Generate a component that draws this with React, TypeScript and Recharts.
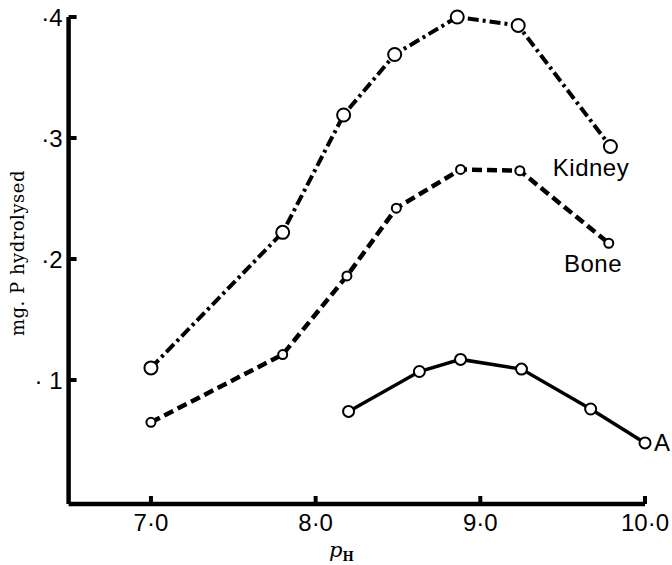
import { LineChart, Line, XAxis, YAxis } from "recharts"

const kidneyPH = [7.0, 7.8, 8.17, 8.48, 8.86, 9.23, 9.79]
const kidneyP = [0.11, 0.222, 0.319, 0.369, 0.4, 0.393, 0.293]

const bonePH = [7.0, 7.8, 8.19, 8.49, 8.88, 9.24, 9.78]
const boneP = [0.065, 0.121, 0.186, 0.242, 0.274, 0.273, 0.213]

const aPH = [8.2, 8.63, 8.88, 9.25, 9.67, 10.0]
const aP = [0.074, 0.107, 0.117, 0.109, 0.076, 0.048]

const xTicks = [7, 8, 9, 10]
const xTickLabels = ["7·0", "8·0", "9·0", "10·0"]
const yTicks = [0.1, 0.2, 0.3, 0.4]
const yTickLabels = ["· 1", "·2", "·3", "·4"]

function toPoints(ph: number[], p: number[]) {
  return ph.map((x, i) => ({ ph: x, p: p[i] }))
}

const kidneyData = toPoints(kidneyPH, kidneyP)
const boneData = toPoints(bonePH, boneP)
const aData = toPoints(aPH, aP)

const SANS = "'Liberation Sans', Arial, sans-serif"
const SERIF = "'DejaVu Serif', serif"

const tickStyle = { fill: "#000", fontSize: 24, fontFamily: SANS }

function dotStyle(r: number) {
  return { r, fill: "#fff", stroke: "#000", strokeWidth: 2, strokeDasharray: "none" }
}

export default function App() {
  return (
    <div style={{ position: "absolute", left: 0, top: 0, width: 672, height: 565, background: "#fff" }}>
      <LineChart
        width={672}
        height={565}
        margin={{ top: 17, right: 27, bottom: 21, left: 8.6 }}
      >
        <XAxis
          type="number"
          dataKey="ph"
          domain={[6.5, 10]}
          ticks={xTicks}
          height={40}
          tickSize={-8}
          tickMargin={18}
          tickFormatter={(v: number) => xTickLabels[xTicks.indexOf(v)]}
          tick={tickStyle}
          axisLine={{ stroke: "#000", strokeWidth: 4.5 }}
          tickLine={{ stroke: "#000", strokeWidth: 4 }}
        />
        <YAxis
          type="number"
          domain={[-0.0025, 0.4]}
          ticks={yTicks}
          width={60}
          tickSize={-8}
          tickMargin={14}
          tickFormatter={(v: number) => yTickLabels[yTicks.indexOf(v)]}
          tick={tickStyle}
          axisLine={{ stroke: "#000", strokeWidth: 4.5 }}
          tickLine={{ stroke: "#000", strokeWidth: 4 }}
        />
        <Line
          data={kidneyData}
          dataKey="p"
          type="linear"
          stroke="#000"
          strokeWidth={4}
          strokeDasharray="11 4 3 4"
          dot={dotStyle(6.5)}
          activeDot={false}
          isAnimationActive={false}
        />
        <Line
          data={boneData}
          dataKey="p"
          type="linear"
          stroke="#000"
          strokeWidth={4.5}
          strokeDasharray="10 5"
          dot={dotStyle(4.5)}
          activeDot={false}
          isAnimationActive={false}
        />
        <Line
          data={aData}
          dataKey="p"
          type="linear"
          stroke="#000"
          strokeWidth={3.5}
          dot={dotStyle(5.5)}
          activeDot={false}
          isAnimationActive={false}
        />
        <text x={591} y={176} textAnchor="middle" fontSize={24} fontFamily={SANS} fill="#000" letterSpacing={0.5}>
          Kidney
        </text>
        <text x={593} y={272} textAnchor="middle" fontSize={24} fontFamily={SANS} fill="#000" letterSpacing={0.5}>
          Bone
        </text>
        <text x={654} y={451} textAnchor="start" fontSize={24} fontFamily={SANS} fill="#000">
          A
        </text>
        <text
          x={24}
          y={253}
          transform="rotate(-90 24 253)"
          textAnchor="middle"
          fontSize={18}
          fontFamily={SERIF}
          fill="#000"
          letterSpacing={0.5}
        >
          mg. P hydrolysed
        </text>
        <text x={329} y={557} fontFamily={SERIF} fill="#000">
          <tspan fontSize={21} fontStyle="italic">p</tspan>
          <tspan fontSize={12} fontWeight="bold" dy={4}>H</tspan>
        </text>
      </LineChart>
    </div>
  )
}
